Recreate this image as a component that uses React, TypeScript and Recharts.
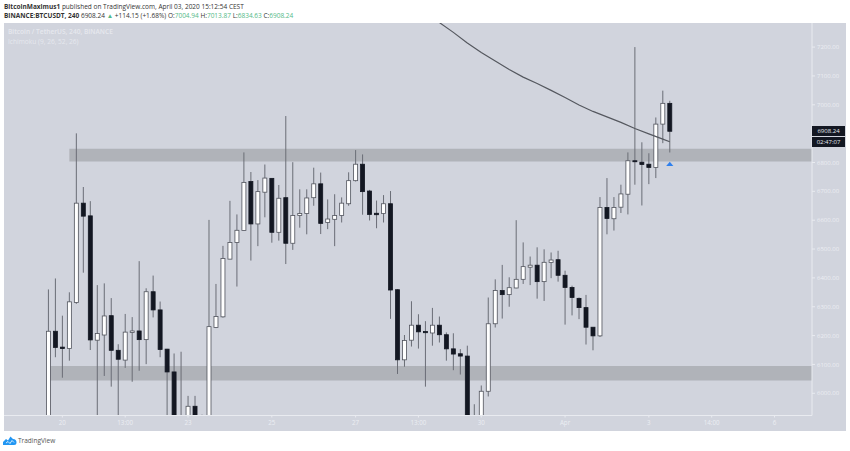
import { Bar, ComposedChart, Line, ReferenceArea, ReferenceDot, XAxis, YAxis } from "recharts";

// BTCUSDT 4h candles. Anything under about 5923 is cut off by the chart bottom.
const opens = [
  5900, 6215, 6160, 6155, 6315, 6659, 6615, 6184, 6202, 6269,
  6149, 6115, 6211, 6216, 6186, 6352, 6289, 6153, 6074, 5905,
  5900, 5955, 5915, 5900, 6228, 6265, 6465, 6523, 6564, 6734,
  6587, 6697, 6745, 6558, 6678, 6520, 6616, 6623, 6678, 6726,
  6592, 6603, 6616, 6657, 6737, 6794, 6701, 6624, 6623, 6657,
  6359, 6116, 6184, 6236, 6214, 6209, 6236, 6203, 6154, 6137,
  6129, 5880, 5900, 6007, 6241, 6356, 6342, 6365, 6395, 6437,
  6444, 6387, 6453, 6463, 6409, 6367, 6329, 6297, 6229, 6199,
  6644, 6605, 6645, 6690, 6806, 6801, 6794, 6783, 6933, 7004.94,
];
const closes = [
  6215, 6159, 6155, 6317, 6659, 6614, 6185, 6207, 6268, 6149,
  6118, 6212, 6216, 6186, 6352, 6289, 6152, 6074, 5900, 5890,
  5955, 5900, 5905, 6231, 6266, 6467, 6523, 6565, 6731, 6587,
  6699, 6746, 6558, 6676, 6520, 6616, 6623, 6677, 6726, 6589,
  6604, 6616, 6659, 6737, 6794, 6699, 6620, 6619, 6657, 6358,
  6116, 6183, 6236, 6213, 6210, 6236, 6203, 6154, 6136, 6129,
  5900, 5890, 6007, 6241, 6356, 6342, 6366, 6395, 6439, 6444,
  6387, 6454, 6462, 6409, 6367, 6332, 6297, 6229, 6199, 6644,
  6606, 6644, 6691, 6806, 6803, 6793, 6783, 6933, 7005, 6908.24,
];
const highs = [
  6360, 6398, 6269, 6350, 6901, 6715, 6666, 6375, 6381, 6330,
  6170, 6275, 6264, 6458, 6364, 6408, 6318, 6154, 6138, 6144,
  5991, 5991, 5926, 6601, 6379, 6511, 6667, 6620, 6835, 6767,
  6739, 6793, 6745, 6722, 6961, 6801, 6707, 6707, 6782, 6765,
  6672, 6690, 6679, 6766, 6843, 6828, 6705, 6668, 6687, 6701,
  6361, 6202, 6319, 6274, 6250, 6296, 6266, 6211, 6208, 6153,
  6165, 5962, 6027, 6332, 6395, 6445, 6402, 6600, 6523, 6474,
  6506, 6499, 6488, 6494, 6425, 6373, 6332, 6341, 6229, 6680,
  6746, 6680, 6723, 6835, 7200, 6870, 6832, 6956, 7049, 7013.87,
];
const lows = [
  5880, 6125, 6054, 6113, 6310, 6418, 6150, 5900, 6060, 6023,
  5900, 6088, 6040, 6078, 6101, 6263, 6125, 5900, 5880, 5850,
  5880, 5880, 5880, 5880, 6226, 6262, 6465, 6370, 6563, 6460,
  6510, 6610, 6522, 6529, 6448, 6497, 6574, 6551, 6650, 6552,
  6569, 6510, 6592, 6650, 6734, 6619, 6599, 6572, 6592, 6258,
  6067, 6092, 6162, 6155, 6023, 6165, 6176, 6113, 6080, 6065,
  5880, 5860, 5880, 5989, 6228, 6259, 6300, 6364, 6379, 6375,
  6328, 6320, 6399, 6387, 6238, 6270, 6257, 6169, 6149, 6195,
  6551, 6564, 6625, 6620, 6723, 6651, 6725, 6746, 6867, 6834.63,
];

// moving average, read every second candle
const maIndex = [55, 56, 58, 60, 62, 64, 66, 68, 70, 72, 74, 76, 78, 80, 82, 84, 86, 88, 89];
const maValues = [7304, 7285, 7251, 7214, 7181, 7152, 7122, 7096, 7074, 7050, 7025, 6999, 6977, 6958, 6939, 6918, 6899, 6881, 6872];

// 6900 sits behind the last-price box in the picture, so it has no label
const priceTicks = [6000, 6100, 6200, 6300, 6400, 6500, 6600, 6700, 6800, 7000, 7100, 7200];
const timeTicks = [2, 11, 20, 32, 44, 53, 62, 74, 86, 95, 104];
const timeLabels = ["20", "13:00", "23", "25", "27", "13:00", "30", "Apr", "3", "14:00", "6"];

const upperBand = [6803, 6848];
const lowerBand = [6044, 6095];

const rows = opens.map((open, i) => {
  const maAt = maIndex.indexOf(i);
  return {
    i,
    open,
    close: closes[i],
    high: highs[i],
    low: lows[i],
    range: [lows[i], highs[i]],
    ma: maAt >= 0 ? maValues[maAt] : null,
  };
});

const xDomain = [-6.36, 109.37];
const TEXT = "'Open Sans', sans-serif";

function Candle(props: any) {
  const { x, y, width, height, payload } = props;
  const { open, close, high, low } = payload;
  const perPrice = height / (high - low);
  const cx = x + width / 2;
  const top = y + (high - Math.max(open, close)) * perPrice;
  const bodyH = Math.max(Math.abs(open - close) * perPrice, 1);
  const up = close >= open;
  return (
    <g>
      <line x1={cx} x2={cx} y1={y} y2={y + height} stroke="#6a6d76" strokeWidth={1} />
      <rect
        x={cx - 2}
        y={top}
        width={4}
        height={bodyH}
        fill={up ? "#ffffff" : "#131722"}
        stroke={up ? "#50535c" : "#131722"}
        strokeWidth={0.8}
      />
    </g>
  );
}

function BlueArrow(props: any) {
  const { cx, cy } = props;
  return <path d={`M${cx - 3.6} ${cy + 2} L${cx} ${cy - 2.2} L${cx + 3.6} ${cy + 2} Z`} fill="#2f80ed" />;
}

function PriceBox({ top, label }: { top: number; label: string }) {
  return (
    <div
      style={{
        position: "absolute",
        left: 812,
        top,
        width: 33,
        height: 10,
        background: "#131722",
        color: "#e8eaf0",
        fontSize: 6,
        lineHeight: "10px",
        textAlign: "center",
      }}
    >
      {label}
    </div>
  );
}

export default function App() {
  const teal = { color: "#53b987" };
  return (
    <div style={{ position: "absolute", left: 0, top: 0, width: 850, height: 451, background: "#fff", fontFamily: TEXT, overflow: "hidden" }}>
      <div style={{ position: "absolute", left: 4, top: 2, fontSize: 6.5, lineHeight: "9px", color: "#333", whiteSpace: "nowrap" }}>
        <b>BitcoinMaximus1</b> published on TradingView.com, April 03, 2020 15:12:54 CEST
      </div>
      <div style={{ position: "absolute", left: 4, top: 11, fontSize: 6.5, lineHeight: "9px", color: "#333", whiteSpace: "nowrap" }}>
        <b>BINANCE:BTCUSDT, 240</b> 6908.24 <span style={teal}>▲</span> +114.15 (+1.68%) O:<span style={teal}>7004.94</span> H:
        <span style={teal}>7013.87</span> L:<span style={teal}>6834.63</span> C:<span style={teal}>6908.24</span>
      </div>

      <div style={{ position: "absolute", left: 4, top: 23, width: 842, height: 408, background: "#d1d4dd" }} />

      <div style={{ position: "absolute", left: 0, top: 0 }}>
        <ComposedChart width={850} height={451} data={rows} margin={{ top: 23, right: 4, bottom: 20, left: 4 }}>
          <XAxis
            dataKey="i"
            type="number"
            domain={xDomain}
            allowDataOverflow
            ticks={timeTicks}
            tickFormatter={(v: number) => timeLabels[timeTicks.indexOf(v)]}
            height={15.5}
            stroke="#e9ebf0"
            tickSize={2}
            tickMargin={3}
            tick={{ fill: "#eceef3", fontSize: 6.2 }}
          />
          <YAxis
            orientation="right"
            domain={[5923, 7283.5]}
            allowDataOverflow
            ticks={priceTicks}
            tickFormatter={(v: number) => v.toFixed(2)}
            width={34}
            stroke="#e9ebf0"
            tickSize={3}
            tickMargin={2}
            tick={{ fill: "#eceef3", fontSize: 6 }}
          />
          <Bar dataKey="range" barSize={5} shape={<Candle />} isAnimationActive={false} />
          <Line dataKey="ma" stroke="#55585f" strokeWidth={1.2} dot={false} connectNulls isAnimationActive={false} />
          <ReferenceArea x1={3} x2={xDomain[1]} y1={upperBand[0]} y2={upperBand[1]} fill="#787b7a" fillOpacity={0.36} stroke="none" />
          <ReferenceArea x1={0} x2={xDomain[1]} y1={lowerBand[0]} y2={lowerBand[1]} fill="#787b7a" fillOpacity={0.36} stroke="none" />
          <ReferenceDot x={89} y={6795} r={4} shape={<BlueArrow />} />
        </ComposedChart>
      </div>

      <div style={{ position: "absolute", left: 8, top: 27, fontSize: 6.6, lineHeight: "10px", fontWeight: 600, color: "#e6e8ee", whiteSpace: "nowrap" }}>
        Bitcoin / TetherUS, 240, BINANCE
      </div>
      <div style={{ position: "absolute", left: 8, top: 37, fontSize: 6.6, lineHeight: "10px", color: "#e6e8ee", whiteSpace: "nowrap" }}>
        Ichimoku (9, 26, 52, 26)
      </div>

      <PriceBox top={126} label="6908.24" />
      <PriceBox top={137} label="02:47:07" />

      <svg style={{ position: "absolute", left: 3, top: 436 }} width={14} height={10} viewBox="0 0 14 10">
        <path d="M0 9 V6 L3 3 L5 4.5 L7.5 0.5 L10 3 Q13.5 3 13.5 6.5 Q13.5 9 11 9 Z" fill="#2196f3" />
        <path d="M3 7 L5 5.5 L7 7.5 L9 4.5 L11 6.5" fill="none" stroke="#fff" strokeWidth={0.8} />
      </svg>
      <div style={{ position: "absolute", left: 18, top: 436, fontSize: 6.5, lineHeight: "10px", color: "#555", whiteSpace: "nowrap" }}>TradingView</div>
    </div>
  );
}
